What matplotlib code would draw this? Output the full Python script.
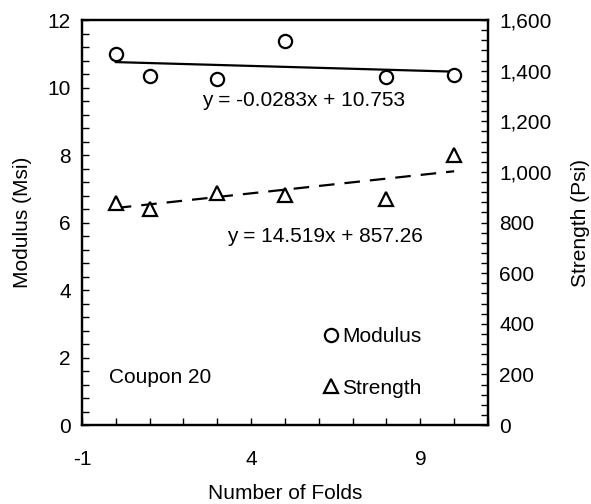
"""Modulus and strength vs number of folds, Coupon 20."""
import matplotlib

matplotlib.use("Agg")
import matplotlib.pyplot as plt
import numpy as np
from matplotlib.lines import Line2D
from matplotlib.ticker import MultipleLocator, FuncFormatter

folds = [0, 1, 3, 5, 8, 10]
modulus_msi = [11.0, 10.35, 10.25, 11.38, 10.32, 10.38]
strength_psi = [879, 855, 915, 907, 894, 1065]
x_ticks = [-1, 4, 9]

# trendline coefficients as printed on the chart
mod_fit = (-0.0283, 10.753)
str_fit = (14.519, 857.26)
mod_eq = "y = -0.0283x + 10.753"
str_eq = "y = 14.519x + 857.26"

plt.rcParams["font.family"] = ["Liberation Sans", "DejaVu Sans"]
plt.rcParams["axes.unicode_minus"] = False
FS = 15

fig = plt.figure(figsize=(5.91, 5.04), dpi=100)
ax = fig.add_axes([0.1387, 0.1567, 0.687, 0.8036])
ax2 = ax.twinx()

xfit = np.array([min(folds), max(folds)])
ax.plot(xfit, mod_fit[0] * xfit + mod_fit[1], color="black", lw=1.6, zorder=2)
ax2.plot(xfit, str_fit[0] * xfit + str_fit[1], color="black", lw=1.6,
         dashes=(7, 4.5), zorder=2)

ax.plot(folds, modulus_msi, linestyle="none", marker="o", ms=9.5,
        mfc="white", mec="black", mew=1.6, zorder=3)
ax2.plot(folds, strength_psi, linestyle="none", marker="^", ms=9.5,
         mfc="white", mec="black", mew=1.6, zorder=3)

ax.set_xlim(-1, 11)
ax.set_ylim(0, 12)
ax2.set_ylim(0, 1600)
ax.set_xticks(x_ticks)
ax.xaxis.set_minor_locator(MultipleLocator(1))
ax.yaxis.set_major_locator(MultipleLocator(2))
ax.yaxis.set_minor_locator(MultipleLocator(0.4))
ax2.yaxis.set_major_locator(MultipleLocator(200))
ax2.yaxis.set_minor_locator(MultipleLocator(40))
ax2.yaxis.set_major_formatter(FuncFormatter(lambda v, p: f"{v:,.0f}"))

for a in (ax, ax2):
    for s in a.spines.values():
        s.set_linewidth(1.6)
    a.tick_params(which="both", direction="in", width=1.0, labelsize=FS, pad=8)
    a.tick_params(which="both", length=5)
ax.tick_params(axis="x", which="both", top=False, pad=18)

ax.set_xlabel("Number of Folds", fontsize=FS, labelpad=11)
ax.set_ylabel("Modulus (Msi)", fontsize=FS, labelpad=11)
ax2.set_ylabel("Strength (Psi)", fontsize=FS, labelpad=14)

ax.text(2.55, 9.62, mod_eq, fontsize=FS, va="center", ha="left")
ax2.text(3.3, 745, str_eq, fontsize=FS, va="center", ha="left")
ax.text(-0.2, 1.42, "Coupon 20", fontsize=FS, va="center", ha="left")

handles = [
    Line2D([], [], linestyle="none", marker="o", ms=9.5, mfc="white", mec="black", mew=1.6),
    Line2D([], [], linestyle="none", marker="^", ms=9.5, mfc="white", mec="black", mew=1.6),
]
ax.legend(handles, ["Modulus", "Strength"], loc="upper left",
          bbox_to_anchor=(0.598, 0.241), frameon=False, fontsize=FS,
          handlelength=0.6, handletextpad=0.25, labelspacing=1.55,
          borderpad=0, borderaxespad=0)

fig.savefig("out.png", dpi=100)
